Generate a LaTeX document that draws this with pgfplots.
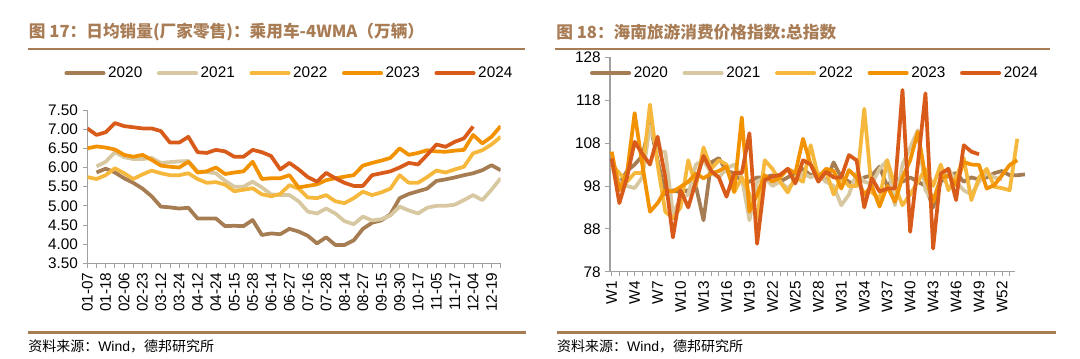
\documentclass[border=0pt]{standalone}
\usepackage{pgfplots}
\pgfplotsset{compat=1.18}
\usepackage{fontspec}
\setmainfont{Liberation Sans}
\newfontfamily\cjk{Noto Sans CJK SC}
\definecolor{cA}{HTML}{A67C52}
\definecolor{cB}{HTML}{D8C8A2}
\definecolor{cC}{HTML}{F5B83D}
\definecolor{cD}{HTML}{F39200}
\definecolor{cE}{HTML}{D95B1A}
\definecolor{tbrown}{HTML}{A87C55}
\definecolor{axgray}{HTML}{A0A0A0}

\pgfplotstableread{
x y
0 7.02
1 6.85
2 6.92
3 7.16
4 7.08
5 7.05
6 7.02
7 7.02
8 6.95
9 6.65
10 6.65
11 6.80
12 6.40
13 6.38
14 6.46
15 6.42
16 6.28
17 6.28
18 6.46
19 6.40
20 6.30
21 5.95
22 6.12
23 5.95
24 5.75
25 5.63
26 5.86
27 5.72
28 5.60
29 5.52
30 5.52
31 5.80
32 5.85
33 5.90
34 6.00
35 6.12
36 6.08
37 6.33
38 6.60
39 6.54
40 6.67
41 6.76
42 7.07
}\LA
\pgfplotstableread{
x y
0 6.50
1 6.55
2 6.52
3 6.47
4 6.33
5 6.28
6 6.33
7 6.20
8 6.05
9 6.02
10 6.00
11 6.15
12 5.87
13 5.90
14 6.00
15 5.83
16 5.87
17 5.90
18 6.15
19 5.70
20 5.72
21 5.72
22 5.80
23 5.48
24 5.52
25 5.56
26 5.67
27 5.72
28 5.76
29 5.80
30 6.05
31 6.12
32 6.18
33 6.25
34 6.50
35 6.33
36 6.38
37 6.45
38 6.42
39 6.41
40 6.44
41 6.46
42 6.85
43 6.63
44 6.80
45 7.08
}\LB
\pgfplotstableread{
x y
0 5.75
1 5.70
2 5.80
3 5.98
4 5.85
5 5.70
6 5.82
7 5.92
8 5.85
9 5.80
10 5.80
11 5.85
12 5.70
13 5.60
14 5.62
15 5.55
16 5.38
17 5.42
18 5.46
19 5.30
20 5.25
21 5.31
22 5.54
23 5.45
24 5.22
25 5.20
26 5.28
27 5.12
28 5.07
29 5.20
30 5.37
31 5.28
32 5.35
33 5.45
34 5.80
35 5.60
36 5.60
37 5.75
38 5.92
39 5.87
40 5.95
41 6.02
42 6.37
43 6.45
44 6.60
45 6.80
}\LC
\pgfplotstableread{
x y
1 6.03
2 6.15
3 6.40
4 6.27
5 6.22
6 6.22
7 6.25
8 6.12
9 6.14
10 6.16
11 6.17
12 5.90
13 5.88
14 5.85
15 5.65
16 5.50
17 5.50
18 5.63
19 5.48
20 5.30
21 5.28
22 5.28
23 5.12
24 4.85
25 4.80
26 4.93
27 4.80
28 4.60
29 4.52
30 4.72
31 4.62
32 4.65
33 4.75
34 4.98
35 4.88
36 4.80
37 4.95
38 5.00
39 5.00
40 5.03
41 5.15
42 5.28
43 5.15
44 5.42
45 5.72
}\LD
\pgfplotstableread{
x y
1 5.87
2 5.97
3 5.87
4 5.72
5 5.60
6 5.45
7 5.25
8 4.98
9 4.96
10 4.93
11 4.95
12 4.67
13 4.67
14 4.67
15 4.47
16 4.48
17 4.47
18 4.63
19 4.24
20 4.28
21 4.26
22 4.40
23 4.33
24 4.22
25 4.02
26 4.18
27 3.98
28 3.98
29 4.10
30 4.40
31 4.56
32 4.62
33 4.78
34 5.20
35 5.31
36 5.38
37 5.45
38 5.65
39 5.69
40 5.74
41 5.80
42 5.85
43 5.93
44 6.06
45 5.93
}\LE

\pgfplotsset{
 mystyle/.style={
  scale only axis,
  axis x line*=bottom, axis y line*=left,
  axis line style={axgray, line width=0.8pt},
  tick style={axgray, line width=0.6pt},
  tick align=outside,
  major tick length=3.5pt,
  every tick label/.append style={font=\fontsize{11.5}{13}\selectfont, text=black},
  /pgf/number format/assume math mode=true,
  legend columns=5,
  legend cell align=left,
  legend style={draw=none, fill=none, font=\fontsize{11.5}{13}\selectfont, inner sep=0pt,
    /tikz/every even column/.append style={column sep=9pt}},
  legend image code/.code={\draw[##1, line cap=round] (0pt,0pt) -- (28pt,0pt);},
  every axis plot/.append style={line width=2.8pt, line join=round, mark=none},
 }
}

\begin{document}
\begin{tikzpicture}
\path[use as bounding box] (0pt,0pt) rectangle (810pt,268.5pt);

% titles and rules
\node[anchor=west, inner sep=0pt, text=tbrown, font=\cjk\bfseries\fontsize{12.5}{14}\selectfont] at (21.5pt,244.5pt) {图 17：日均销量(厂家零售)：乘用车-4WMA（万辆）};
\node[anchor=west, inner sep=0pt, text=tbrown, font=\cjk\bfseries\fontsize{12.5}{14}\selectfont] at (417pt,244.5pt) {图 18：海南旅游消费价格指数:总指数};
\draw[tbrown, line width=1.6pt] (20.7pt,231.7pt) -- (394pt,231.7pt);
\draw[tbrown, line width=1.6pt] (416pt,231.7pt) -- (787.5pt,231.7pt);
\draw[tbrown, line width=1.6pt] (20.7pt,19.1pt) -- (394.5pt,19.1pt);
\draw[tbrown, line width=1.6pt] (417.7pt,19.1pt) -- (792pt,19.1pt);
\node[anchor=west, inner sep=0pt, font=\fontsize{10.5}{12}\selectfont] at (21pt,8.5pt) {{\cjk 资料来源：}Wind{\cjk ，德邦研究所}};
\node[anchor=west, inner sep=0pt, font=\fontsize{10.5}{12}\selectfont] at (417.7pt,8.5pt) {{\cjk 资料来源：}Wind{\cjk ，德邦研究所}};

\begin{axis}[mystyle, at={(65.5pt,71pt)}, anchor=south west,
  width=310pt, height=115pt,
  xmin=0, xmax=45, ymin=3.5, ymax=7.5,
  ytick={3.5,4,4.5,5,5.5,6,6.5,7,7.5},
  yticklabel style={/pgf/number format/.cd, fixed, fixed zerofill, precision=2},
  xtick={0,...,45},
  xticklabels={01-07,,01-18,,02-06,,02-23,,03-12,,03-24,,04-12,,04-24,,05-15,,05-28,,06-14,,06-27,,07-16,,07-28,,08-14,,08-27,,09-15,,09-30,,10-17,,11-05,,11-17,,12-04,,12-19,},
  xticklabel style={rotate=90, anchor=east},
  legend style={at={(-0.056,1.24)}, anchor=west}]
\addplot[cA] table {\LE};
\addplot[cB] table {\LD};
\addplot[cC] table {\LC};
\addplot[cD] table {\LB};
\addplot[cE] table {\LA};
\legend{2020,2021,2022,2023,2024}
\end{axis}

\begin{axis}[mystyle, at={(457.5pt,64.7pt)}, anchor=south west,
  width=303.75pt, height=160.8pt,
  xmin=0.78, xmax=53.7, ymin=78, ymax=128,
  ytick={78,88,...,128},
  xtick={1,...,53},
  xticklabels={W1,,,W4,,,W7,,,W10,,,W13,,,W16,,,W19,,,W22,,,W25,,,W28,,,W31,,,W34,,,W37,,,W40,,,W43,,,W46,,,W49,,,W52,},
  xticklabel style={rotate=90, anchor=east},
  clip=false,
  legend style={at={(-0.05,0.927)}, anchor=west}]
\addplot[cA] coordinates {(1,103)(2,98.5)(3,101.5)(4,103)(5,105)(6,112.5)(7,104)(8,96)(9,97)(10,96.5)(11,97)(12,98)(13,90)(14,103.5)(15,104.5)(16,101.5)(17,101)(18,99)(19,99)(20,100)(21,100)(22,100.5)(23,99)(24,100)(25,101)(26,102)(27,100.5)(28,101)(29,99)(30,103.5)(31,100)(32,99)(33,98)(34,100)(35,100.5)(36,102.5)(37,98)(38,100)(39,99)(40,100)(41,99)(42,98)(43,93)(44,99)(45,100.5)(46,101)(47,99)(48,100)(49,99.5)(50,100)(51,101)(52,101.5)(53,100.5)(54,100.5)(55,100.7)};
\addplot[cB] coordinates {(1,102.5)(2,99)(3,98)(4,97.5)(5,100)(6,112)(7,106)(8,106)(9,91.5)(10,95)(11,96)(12,103)(13,104)(14,101)(15,100)(16,102)(17,103)(18,100)(19,90)(20,99)(21,100)(22,98)(23,99)(24,97.5)(25,99)(26,101)(27,100)(28,101)(29,99)(30,98)(31,93.5)(32,96)(33,101)(34,99)(35,98.5)(36,102)(37,104)(38,93.5)(39,103)(40,107)(41,111)(42,97)(43,94.5)(44,100)(45,102)(46,99)(47,97)(48,96)(49,99)(50,101)(51,100)(52,99.5)};
\addplot[cC] coordinates {(1,103)(2,101)(3,99)(4,101)(5,101)(6,117)(7,103)(8,92)(9,90.5)(10,93)(11,104)(12,98)(13,107)(14,102)(15,104)(16,103)(17,96.5)(18,100)(19,96)(20,90.5)(21,104)(22,102)(23,99)(24,96.5)(25,100)(26,99)(27,107.5)(28,100)(29,101.5)(30,96)(31,100)(32,98)(33,98)(34,116)(35,96.5)(36,95)(37,104)(38,98)(39,93.5)(40,96)(41,99)(42,102)(43,98)(44,103)(45,97)(46,100)(47,104.5)(48,94.7)(49,100)(50,102)(51,97.8)(52,97.5)(53,97)(54,109)};
\addplot[cD] coordinates {(1,106)(2,97)(3,101)(4,115)(5,103)(6,92)(7,94)(8,97)(9,96.7)(10,97.8)(11,99)(12,100.9)(13,99.8)(14,100.9)(15,101.5)(16,102.5)(17,96.7)(18,114)(19,92)(20,96)(21,100.5)(22,99)(23,100)(24,102)(25,101)(26,109)(27,103)(28,100)(29,102)(30,101.5)(31,97.4)(32,101.7)(33,100)(34,96)(35,98)(36,93.2)(37,98)(38,94.3)(39,100)(40,104)(41,110.6)(42,100)(43,94.3)(44,99.8)(45,100.5)(46,98.2)(47,103.6)(48,103)(49,102.9)(50,97.4)(51,98.2)(52,100.5)(53,102.9)(54,104)};
\addplot[cE] coordinates {(1,104.4)(2,94)(3,100)(4,108.3)(5,105.5)(6,103)(7,109.5)(8,100)(9,86)(10,97)(11,93)(12,99)(13,105)(14,101.5)(15,100)(16,95.5)(17,101)(18,101)(19,110.3)(20,84.5)(21,99.4)(22,100.2)(23,100.6)(24,102)(25,98.6)(26,104)(27,103)(28,99)(29,101.3)(30,100)(31,100)(32,105.2)(33,104)(34,93)(35,99.8)(36,96.7)(37,97.4)(38,97.4)(39,120.4)(40,87.3)(41,103)(42,119.6)(43,83.4)(44,100.9)(45,102)(46,94.7)(47,107.5)(48,106)(49,105.4)};
\legend{2020,2021,2022,2023,2024}
\end{axis}
\end{tikzpicture}
\end{document}
